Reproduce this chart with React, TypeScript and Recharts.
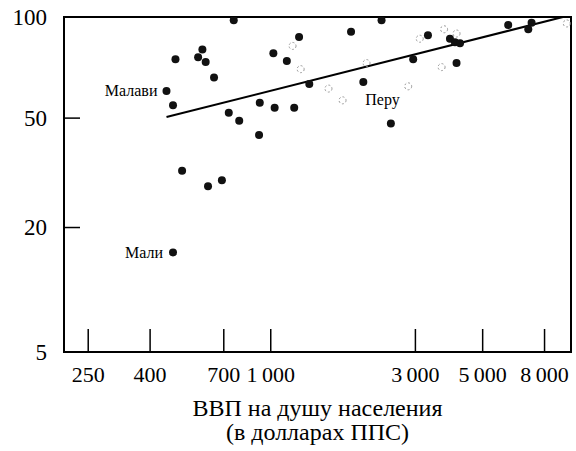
import React from 'react';
import { ScatterChart, Scatter, XAxis, YAxis, ReferenceLine, ReferenceArea, Label } from 'recharts';

// GDP per capita (PPP $) vs. indicator
const xTicks = [250, 400, 700, 1000, 3000, 5000, 8000];
const yTicks = [5, 20, 50, 100];

const filledPoints = [
  { gdp: 755, value: 98 },
  { gdp: 1240, value: 88 },
  { gdp: 595, value: 81 },
  { gdp: 1020, value: 79 },
  { gdp: 485, value: 76 },
  { gdp: 576, value: 77 },
  { gdp: 610, value: 74.5 },
  { gdp: 1130, value: 75 },
  { gdp: 650, value: 67 },
  { gdp: 1340, value: 64 },
  { gdp: 476, value: 55 },
  { gdp: 727, value: 52 },
  { gdp: 920, value: 56 },
  { gdp: 1030, value: 54 },
  { gdp: 1195, value: 54 },
  { gdp: 787, value: 49 },
  { gdp: 915, value: 44 },
  { gdp: 510, value: 33 },
  { gdp: 621, value: 29 },
  { gdp: 690, value: 30.5 },
  { gdp: 2320, value: 98 },
  { gdp: 1840, value: 91 },
  { gdp: 3300, value: 89 },
  { gdp: 3900, value: 87 },
  { gdp: 4050, value: 85 },
  { gdp: 4210, value: 84.5 },
  { gdp: 6070, value: 95 },
  { gdp: 7070, value: 92.5 },
  { gdp: 7250, value: 96.5 },
  { gdp: 2950, value: 76 },
  { gdp: 4100, value: 74 },
  { gdp: 2490, value: 48 },
];

const faintPoints = [
  { gdp: 1180, value: 83 },
  { gdp: 1255, value: 71 },
  { gdp: 1550, value: 62 },
  { gdp: 3100, value: 87 },
  { gdp: 3730, value: 92.5 },
  { gdp: 4100, value: 90 },
  { gdp: 9470, value: 96 },
  { gdp: 3660, value: 72 },
  { gdp: 2070, value: 74 },
  { gdp: 1725, value: 57 },
  { gdp: 2840, value: 63 },
];

const namedPoints = [
  { name: 'Малави', gdp: 453, value: 61 },
  { name: 'Мали', gdp: 476, value: 15.7 },
  { name: 'Перу', gdp: 2020, value: 65 },
];

const fitLine = [
  { gdp: 453, value: 50.4 },
  { gdp: 9200, value: 100 },
];

const X_DOMAIN = [208, 9780];
const FONT = '"Liberation Serif", "Times New Roman", serif';

const root = (v: number) => Math.pow(v, 0.25);
const toPlot = (arr: any[]) => arr.map((p) => ({ ...p, y: root(p.value) }));

const fmtX = (v: number) => (v >= 1000 ? `${Math.floor(v / 1000)}\u2009000` : String(v));

const XTick = ({ x, y, payload }: any) => (
  <g>
    <line x1={x} y1={y} x2={x} y2={y - 23} stroke="#000" strokeWidth={1.5} />
    <text x={x} y={y + 30} textAnchor="middle" fontSize={22} fontFamily={FONT} fill="#000">
      {fmtX(payload.value)}
    </text>
  </g>
);

const YTick = ({ x, y, payload }: any) => (
  <g>
    <line x1={x} y1={y} x2={x + 16} y2={y} stroke="#000" strokeWidth={1.5} />
    <text x={x - 17} y={y} textAnchor="end" dominantBaseline="central" fontSize={23} fontFamily={FONT} fill="#000">
      {Math.round(Math.pow(payload.value, 4))}
    </text>
  </g>
);

const Dot = ({ cx, cy }: any) => <circle cx={cx} cy={cy} r={4} fill="#111" />;

const FaintDot = ({ cx, cy }: any) => (
  <circle cx={cx} cy={cy} r={3.5} fill="none" stroke="#999" strokeWidth={1} strokeDasharray="2 2" />
);

const labelPlace: Record<string, { dx: number; dy: number; anchor: string }> = {
  'Малави': { dx: -9, dy: 0, anchor: 'end' },
  'Мали': { dx: -10, dy: 0, anchor: 'end' },
  'Перу': { dx: 2, dy: 18, anchor: 'start' },
};

const NamedDot = ({ cx, cy, payload }: any) => {
  const p = labelPlace[payload.name];
  return (
    <g>
      <circle cx={cx} cy={cy} r={4} fill="#111" />
      <text x={cx + p.dx} y={cy + p.dy} textAnchor={p.anchor} dominantBaseline="central" fontSize={16} fontFamily={FONT} fill="#000">
        {payload.name}
      </text>
    </g>
  );
};

const AxisTitle = ({ viewBox }: any) => {
  const cx = viewBox.x + viewBox.width / 2;
  return (
    <text textAnchor="middle" fontSize={24} fontFamily={FONT} fill="#000">
      <tspan x={cx} y={viewBox.y + 64}>ВВП на душу населения</tspan>
      <tspan x={cx} y={viewBox.y + 88}>(в долларах ППС)</tspan>
    </text>
  );
};

export default function App() {
  const yDomain = [root(5), root(100)];
  return (
    <div style={{ position: 'absolute', left: 0, top: 0, background: '#fff' }}>
      <ScatterChart width={576} height={451} margin={{ top: 17, right: 5, bottom: 0, left: 0 }}>
        <XAxis
          dataKey="gdp"
          type="number"
          scale="log"
          domain={X_DOMAIN}
          allowDataOverflow
          ticks={xTicks}
          interval={0}
          height={99}
          tickSize={0}
          tickMargin={0}
          tickLine={false}
          tick={<XTick />}
          axisLine={{ stroke: '#000', strokeWidth: 2 }}
        >
          <Label content={<AxisTitle />} />
        </XAxis>
        <YAxis
          dataKey="y"
          type="number"
          domain={yDomain}
          allowDataOverflow
          ticks={yTicks.map(root)}
          interval={0}
          width={64}
          tickSize={0}
          tickMargin={0}
          tickLine={false}
          tick={<YTick />}
          axisLine={{ stroke: '#000', strokeWidth: 2 }}
        />
        <ReferenceArea
          x1={X_DOMAIN[0]}
          x2={X_DOMAIN[1]}
          y1={yDomain[0]}
          y2={yDomain[1]}
          fill="none"
          stroke="#000"
          strokeWidth={2}
          ifOverflow="visible"
        />
        <ReferenceLine
          segment={fitLine.map((p) => ({ x: p.gdp, y: root(p.value) }))}
          stroke="#000"
          strokeWidth={2}
          ifOverflow="visible"
        />
        <Scatter data={toPlot(faintPoints)} shape={<FaintDot />} isAnimationActive={false} />
        <Scatter data={toPlot(filledPoints)} shape={<Dot />} isAnimationActive={false} />
        <Scatter data={toPlot(namedPoints)} shape={<NamedDot />} isAnimationActive={false} />
      </ScatterChart>
    </div>
  );
}
